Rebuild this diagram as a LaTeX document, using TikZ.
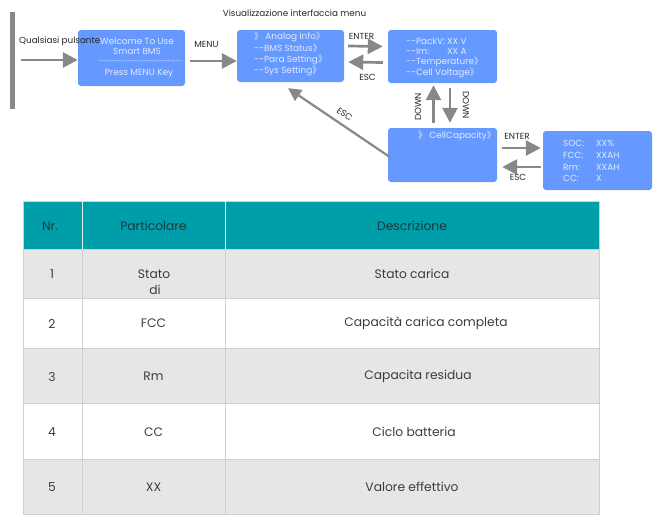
\documentclass[tikz,border=0pt]{standalone}
\usepackage{fontspec}
\setmainfont{Poppins}
\newfontfamily\cjkf{Noto Sans CJK SC}
\usetikzlibrary{arrows.meta,calc}
\definecolor{boxblue}{RGB}{102,153,255}
\definecolor{boxtxt}{RGB}{226,234,255}
\definecolor{arrgray}{RGB}{136,136,136}
\definecolor{hdrteal}{RGB}{0,158,168}
\definecolor{hdrtxt}{RGB}{30,55,60}
\definecolor{rowgray}{RGB}{230,230,230}
\definecolor{gridc}{RGB}{208,208,208}
\definecolor{celltxt}{RGB}{60,60,60}
\newcommand{\rbr}{{\cjkf 》}}
\newcommand{\dd}{-{}-}
\begin{document}
\begin{tikzpicture}[x=1pt,y=-1pt,
  box/.style={fill=boxblue, rounded corners=3pt, inner sep=0, draw=none},
  btxt/.style={text=boxtxt, font=\fontsize{8.9}{10}\selectfont, inner sep=0, anchor=west},
  arr/.style={draw=arrgray, line width=2.7pt, -{Triangle[length=15pt,width=15pt]}},
  lbl/.style={font=\fontsize{8.8}{10}\selectfont, text=black!85, inner sep=0},
  cell/.style={font=\fontsize{12.3}{14}\selectfont, text=celltxt, inner sep=0},
  hcell/.style={font=\fontsize{12.3}{14}\selectfont, text=hdrtxt, inner sep=0}]
\useasboundingbox (0,0) rectangle (656,515);

% left bar
\fill[arrgray] (10,12) rectangle (15,109);

% title
\node[lbl] (title) at (294.5,13) {Visualizzazione interfaccia menu};

% boxes
\node[box, minimum width=107pt, minimum height=56pt] (b1) at (131.5,58) {};
\node[box, minimum width=107pt, minimum height=52pt] (b2) at (290.5,56) {};
\node[box, minimum width=109pt, minimum height=53pt] (b3) at (442.5,56.5) {};
\node[box, minimum width=109pt, minimum height=54pt] (b4) at (442.5,155) {};
\node[box, minimum width=109pt, minimum height=59pt] (b5) at (597.5,160.5) {};

% box 1 text
\node[btxt, anchor=center] (t11) at (137,41) {Welcome To Use};
\node[btxt, anchor=center] (t12) at (137,51.5) {Smart BMS};
\node[btxt, anchor=center] (t13) at (141,62) {\fontsize{6}{7}\selectfont \dd\dd\dd\dd\dd\dd\dd\dd\dd\dd\dd\dd\dd\dd\dd\dd\dd\dd\dd\dd};
\node[btxt, anchor=center] (t14) at (139,74) {Press MENU Key};

% box 2 text
\node[btxt] (t21) at (254,36.5) {\rbr\ Analog Info\rbr};
\node[btxt] (t22) at (254,48.5) {\dd BMS Status\rbr};
\node[btxt] (t23) at (254,60) {\dd Para Setting\rbr};
\node[btxt] (t24) at (254,71) {\dd Sys Setting\rbr};

% box 3 text
\node[btxt] (t31) at (406,41) {\dd PackV:};
\node[btxt] (t31v) at (447,41) {XX V};
\node[btxt] (t32) at (406,51.5) {\dd Im:};
\node[btxt] (t32v) at (447,51.5) {XX A};
\node[btxt] (t33) at (406,62) {\dd Temperature\rbr};
\node[btxt] (t34) at (406,72.5) {\dd Cell Voltage\rbr};

% box 4 text
\node[btxt, anchor=east] (t41) at (496,136) {\rbr\ CellCapacity\rbr};

% box 5 text
\node[btxt] (t51) at (563,143) {SOC:};
\node[btxt] (t51v) at (596,143) {XX\%};
\node[btxt] (t52) at (563,155) {FCC:};
\node[btxt] (t52v) at (596,155) {XXAH};
\node[btxt] (t53) at (563,167) {Rm:};
\node[btxt] (t53v) at (596,167) {XXAH};
\node[btxt] (t54) at (563,178) {CC:};
\node[btxt] (t54v) at (596,178) {X};

% entry
\coordinate (start) at (21,60);
\node[lbl, anchor=west] (q) at (19,41) {Qualsiasi pulsante};
\draw[arr] (start) -- ([yshift=-2pt]b1.west) ;

% MENU
\node[lbl] (menu) at (206.5,44) {MENU};
\draw[arr] ([xshift=5pt,yshift=-3pt]b1.east) -- ([yshift=-5pt]b2.west);

% b2 <-> b3
\node[lbl] (ent1) at (361.5,36) {ENTER};
\draw[arr] ([xshift=4pt,yshift=10pt]b2.east) -- ([xshift=-5pt,yshift=10pt]b3.west);
\draw[arr] ([xshift=-5pt,yshift=-6pt]b3.west) -- ([xshift=4pt,yshift=-6pt]b2.east);
\node[lbl] (esc1) at (367.5,77) {ESC};

% b3 <-> b4
\draw[arr] ([xshift=-9pt,yshift=5pt]b4.north) -- ([xshift=-9pt,yshift=-2pt]b3.south);
\draw[arr] ([xshift=7.5pt,yshift=-5pt]b3.south) -- ([xshift=7.5pt,yshift=5pt]b4.north);
\node[lbl, rotate=90] (dn1) at (418,107) {DOWN};
\node[lbl, rotate=-90] (dn2) at (466,105) {DOWN};

% b4 <-> b5
\node[lbl] (ent2) at (517,136) {ENTER};
\draw[arr] ([xshift=5pt,yshift=7pt]b4.east) -- ([xshift=-2pt,yshift=12.5pt]b5.west);
\draw[arr] ([xshift=-2pt,yshift=-6.5pt]b5.west) -- ([xshift=5pt,yshift=-12pt]b4.east);
\node[lbl] (esc2) at (518,177) {ESC};

% b4 -> b2 ESC
\draw[draw=arrgray, line width=2.2pt, {Triangle[length=13pt,width=13pt]}-]
  ([xshift=-2.5pt,yshift=-6pt]b2.south) -- node[lbl, sloped, above=6pt] (esc3) {ESC} ([xshift=2pt,yshift=-2pt]b4.west);

% ---------- table ----------
\fill[hdrteal] (23,201) rectangle (599,249);
\fill[rowgray] (23,249) rectangle (599,298);
\fill[rowgray] (23,348) rectangle (599,403);
\fill[rowgray] (23,459) rectangle (599,514);
\draw[gridc, line width=0.8pt] (23,201) rectangle (599,514);
\foreach \yy in {249,298,348,403,459} \draw[gridc, line width=0.8pt] (23,\yy) -- (599,\yy);
\draw[gridc, line width=0.8pt] (82,249) -- (82,514);
\draw[gridc, line width=0.8pt] (225,249) -- (225,514);
\draw[white!90!hdrteal, line width=0.8pt] (82,201) -- (82,249);
\draw[white!90!hdrteal, line width=0.8pt] (225,201) -- (225,249);

\node[hcell] (h1) at (50,226) {Nr.};
\node[hcell] (h2) at (153.5,226) {Particolare};
\node[hcell] (h3) at (412,226) {Descrizione};

\node[cell] (r1a) at (52,274) {1};
\node[cell] (r1b) at (154,274) {Stato};
\node[cell] (r1b2) at (155,290) {di};
\node[cell] (r1c) at (412,274) {Stato carica};

\node[cell] (r2a) at (52,323.5) {2};
\node[cell] (r2b) at (153.5,323.5) {FCC};
\node[cell] (r2c) at (426,323.5) {Capacità carica completa};

\node[cell] (r3a) at (52,376.5) {3};
\node[cell] (r3b) at (153.5,376.5) {Rm};
\node[cell] (r3c) at (418,376.5) {Capacita residua};

\node[cell] (r4a) at (52,432) {4};
\node[cell] (r4b) at (153.5,432) {CC};
\node[cell] (r4c) at (414,432) {Ciclo batteria};

\node[cell] (r5a) at (52,487) {5};
\node[cell] (r5b) at (153.5,487) {XX};
\node[cell] (r5c) at (412,487) {Valore effettivo};
\end{tikzpicture}
\end{document}
